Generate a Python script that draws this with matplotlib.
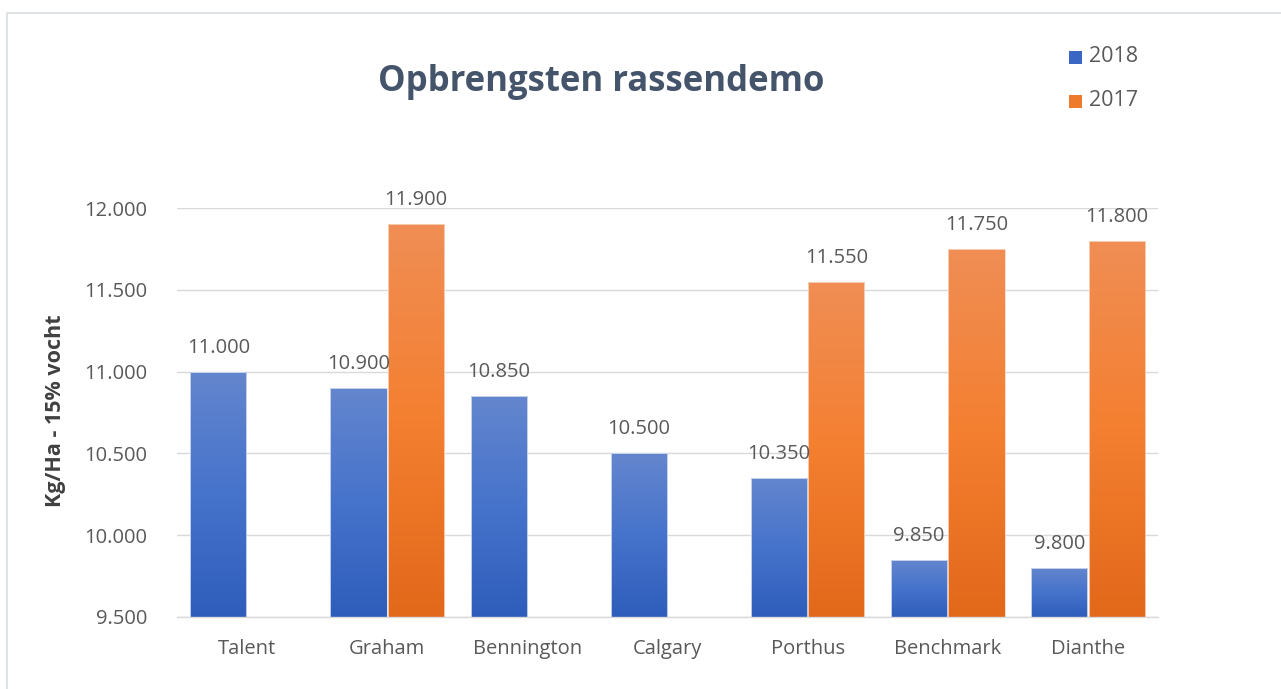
import matplotlib
matplotlib.use("Agg")
import matplotlib.pyplot as plt
import numpy as np
from matplotlib.colors import LinearSegmentedColormap
from matplotlib.lines import Line2D
from matplotlib.patches import Rectangle

categories = ["Talent", "Graham", "Bennington", "Calgary", "Porthus", "Benchmark", "Dianthe"]
values_2018 = [11000, 10900, 10850, 10500, 10350, 9850, 9800]
values_2017 = [None, 11900, None, None, 11550, 11750, 11800]
series_names = ["2018", "2017"]
yticks = [9500, 10000, 10500, 11000, 11500, 12000]
title = "Opbrengsten rassendemo"
ylabel = "Kg/Ha - 15% vocht"

plt.rcParams['font.family'] = ['Open Sans', 'DejaVu Sans']

W, H = 1281, 689
fig = plt.figure(figsize=(W / 100, H / 100), dpi=100)
ax = fig.add_axes([177 / W, 1 - 617 / H, (1158 - 177) / W, (617 - 208) / H])

ymin, ymax = 9500, 12000
ax.set_ylim(ymin, ymax)
x = np.arange(len(categories))
ax.set_xlim(-0.5, len(categories) - 0.5)

blue_cmap = LinearSegmentedColormap.from_list("b", ["#2e5dbb", "#4673cb", "#6486ce"])
orange_cmap = LinearSegmentedColormap.from_list("o", ["#e2681a", "#f47f30", "#f08e55"])
grad = np.linspace(0, 1, 256).reshape(-1, 1)

bw = 0.40
off = 0.205
label_color = "#595959"
fs = 14.5

def draw_bars(xs, vals, cmap, edge):
    for xi, v in zip(xs, vals):
        if v is None:
            continue
        left = xi - bw / 2
        rect = Rectangle((left, ymin), bw, v - ymin, facecolor="none",
                         edgecolor=edge, linewidth=0.6, zorder=3)
        ax.add_patch(rect)
        im = ax.imshow(grad, extent=(left, left + bw, ymin, v), origin="lower",
                       cmap=cmap, aspect="auto", zorder=2.5, interpolation="bilinear")
        im.set_clip_path(rect)
        ax.text(xi, v + 116, f"{v:,}".replace(",", "."), ha="center", va="baseline",
                fontsize=fs, color=label_color, zorder=4, clip_on=False)

draw_bars(x - off, values_2018, blue_cmap, "#d8e0f0")
draw_bars(x + off, values_2017, orange_cmap, "#f8d8c0")
ax.set_xlim(-0.5, len(categories) - 0.5)
ax.set_ylim(ymin, ymax)

ax.set_yticks(yticks)
ax.set_yticklabels([f"{t:,}".replace(",", ".") for t in yticks], fontsize=fs, color=label_color)
ax.set_xticks(x)
ax.set_xticklabels(categories, fontsize=fs, color=label_color)
ax.tick_params(axis="both", length=0)
ax.tick_params(axis="y", pad=21.5)
ax.tick_params(axis="x", pad=16)
ax.grid(axis="y", color="#d9d9d9", linewidth=1, zorder=0)
ax.set_axisbelow(True)
for s in ["top", "right", "left"]:
    ax.spines[s].set_visible(False)
ax.spines["bottom"].set_color("#d9d9d9")
ax.spines["bottom"].set_linewidth(1)

fig.text(55 / W, 1 - 411 / H, ylabel, rotation=90, ha="center", va="center",
         fontsize=15.5, fontweight="bold", color="#404040")
fig.text(601 / W, 1 - 82 / H, title, ha="center", va="center",
         fontsize=25, fontweight="bold", color="#44546a")

# legend
for i, (name, c) in enumerate(zip(series_names, ["#3a66c4", "#ee7a2c"])):
    yy = 1 - (57 + 44 * i) / H
    fig.patches.append(Rectangle((1069 / W, yy - 6.5 / H), 13 / W, 13 / H,
                                 transform=fig.transFigure, facecolor=c, edgecolor="none"))
    fig.text(1089 / W, yy, name, ha="left", va="center", fontsize=15.5, color=label_color)

# chart frame
fig.lines.append(Line2D([7 / W, 7 / W, 1.0], [0.0, 1 - 13 / H, 1 - 13 / H],
                        transform=fig.transFigure, color="#d9dde3", linewidth=1.2))

fig.savefig("out.png", dpi=100, facecolor="white")
